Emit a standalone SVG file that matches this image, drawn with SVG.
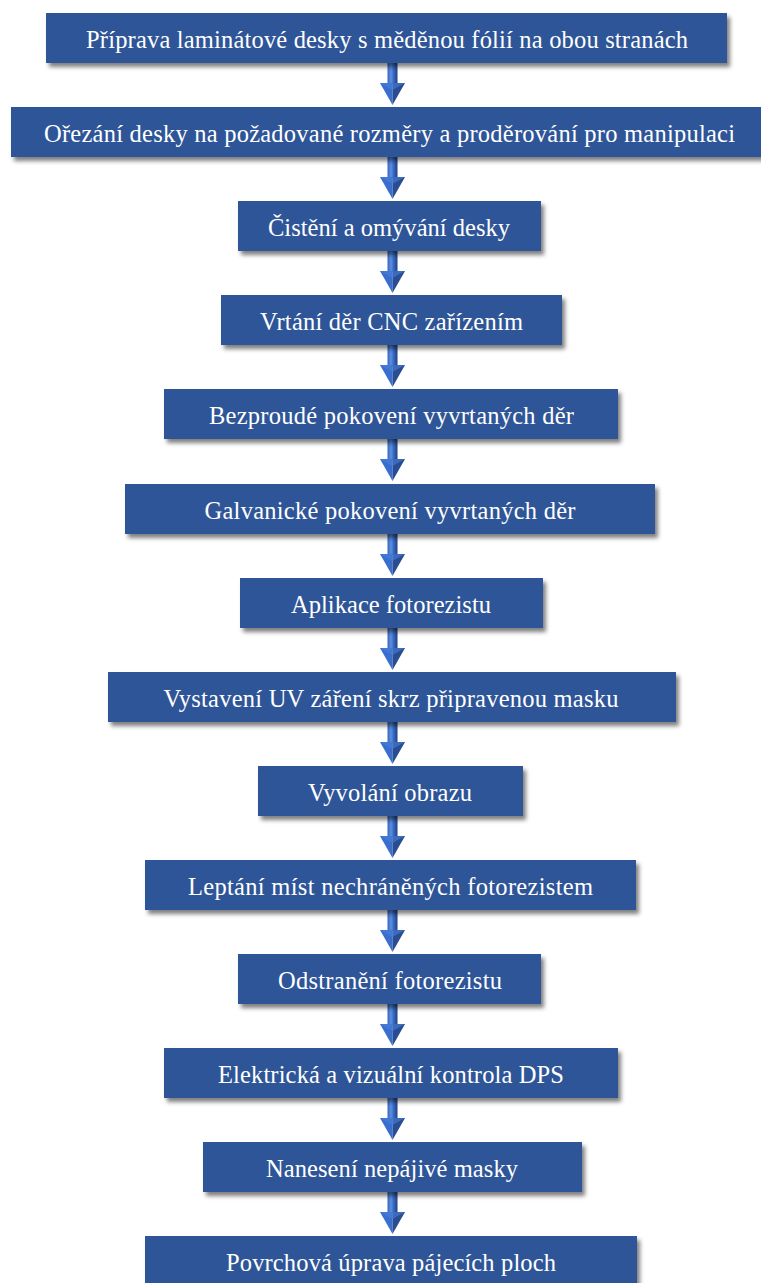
<svg xmlns="http://www.w3.org/2000/svg" width="761" height="1283" viewBox="0 0 761 1283">
  <defs>
    <style>
      .box { fill: #2F5597; filter: url(#shadow); }
      .lbl { fill: #FFFFFF; font-size: 24.5px; text-anchor: middle; }
    </style>
    <filter id="shadow" x="-5%" y="-30%" width="112%" height="170%">
      <feDropShadow dx="3" dy="4" stdDeviation="2.2" flood-color="#000000" flood-opacity="0.5"/>
    </filter>
    <linearGradient id="shaft" x1="0" y1="0" x2="1" y2="0">
      <stop offset="0" stop-color="#3465BF"/>
      <stop offset="0.35" stop-color="#5B8FE0"/>
      <stop offset="0.6" stop-color="#3A6BC6"/>
      <stop offset="1" stop-color="#213F80"/>
    </linearGradient>
    <!-- beveled down arrow, top of shaft at y=0, tip at y=42 -->
    <g id="arrow">
      <rect x="387.5" y="0" width="10" height="21" fill="url(#shaft)"/>
      <polygon points="380,20 392.5,20 392.5,42" fill="#3A6ECE"/>
      <polygon points="392.5,20 405,20 392.5,42" fill="#2A4C90"/>
      <polygon points="380,20 405,20 392.5,27" fill="#4A80DA" opacity="0.6"/>
    </g>
  </defs>

  <rect width="761" height="1283" fill="#FFFFFF"/>

  <g id="connectors">
    <use href="#arrow" y="63"/>
    <use href="#arrow" y="157"/>
    <use href="#arrow" y="251"/>
    <use href="#arrow" y="345"/>
    <use href="#arrow" y="439"/>
    <use href="#arrow" y="534"/>
    <use href="#arrow" y="628"/>
    <use href="#arrow" y="722"/>
    <use href="#arrow" y="816"/>
    <use href="#arrow" y="910"/>
    <use href="#arrow" y="1004"/>
    <use href="#arrow" y="1098"/>
    <use href="#arrow" y="1192"/>
  </g>

  <g font-family="'Liberation Serif', 'DejaVu Serif', serif">
    <g id="n1"><rect class="box" x="46" y="13" width="681" height="50"/><text class="lbl" x="387" y="48" textLength="602">Příprava laminátové desky s měděnou fólií na obou stranách</text></g>
    <g id="n2"><rect class="box" x="11" y="107" width="756" height="50"/><text class="lbl" x="389.5" y="142" textLength="691">Ořezání desky na požadované rozměry a proděrování pro manipulaci</text></g>
    <g id="n3"><rect class="box" x="238" y="201" width="303" height="50"/><text class="lbl" x="389" y="236" textLength="242">Čistění a omývání desky</text></g>
    <g id="n4"><rect class="box" x="221" y="295" width="341" height="50"/><text class="lbl" x="391.5" y="330" textLength="263">Vrtání děr CNC zařízením</text></g>
    <g id="n5"><rect class="box" x="164" y="389" width="454" height="50"/><text class="lbl" x="391.5" y="424" textLength="365">Bezproudé pokovení vyvrtaných děr</text></g>
    <g id="n6"><rect class="box" x="125" y="484" width="530" height="50"/><text class="lbl" x="390" y="519" textLength="371">Galvanické pokovení vyvrtaných děr</text></g>
    <g id="n7"><rect class="box" x="240" y="578" width="303" height="50"/><text class="lbl" x="391" y="613" textLength="200">Aplikace fotorezistu</text></g>
    <g id="n8"><rect class="box" x="108" y="672" width="568" height="50"/><text class="lbl" x="391" y="707" textLength="455">Vystavení UV záření skrz připravenou masku</text></g>
    <g id="n9"><rect class="box" x="258" y="766" width="265" height="50"/><text class="lbl" x="390" y="801" textLength="164">Vyvolání obrazu</text></g>
    <g id="n10"><rect class="box" x="145" y="860" width="491" height="50"/><text class="lbl" x="390.5" y="895" textLength="405">Leptání míst nechráněných fotorezistem</text></g>
    <g id="n11"><rect class="box" x="238" y="954" width="303" height="50"/><text class="lbl" x="390" y="989" textLength="224">Odstranění fotorezistu</text></g>
    <g id="n12"><rect class="box" x="164" y="1048" width="454" height="50"/><text class="lbl" x="391" y="1083" textLength="346">Elektrická a vizuální kontrola DPS</text></g>
    <g id="n13"><rect class="box" x="203" y="1142" width="379" height="50"/><text class="lbl" x="392" y="1177" textLength="252">Nanesení nepájivé masky</text></g>
    <g id="n14"><rect class="box" x="145" y="1236" width="492" height="50"/><text class="lbl" x="391" y="1271" textLength="330">Povrchová úprava pájecích ploch</text></g>
  </g>
</svg>
